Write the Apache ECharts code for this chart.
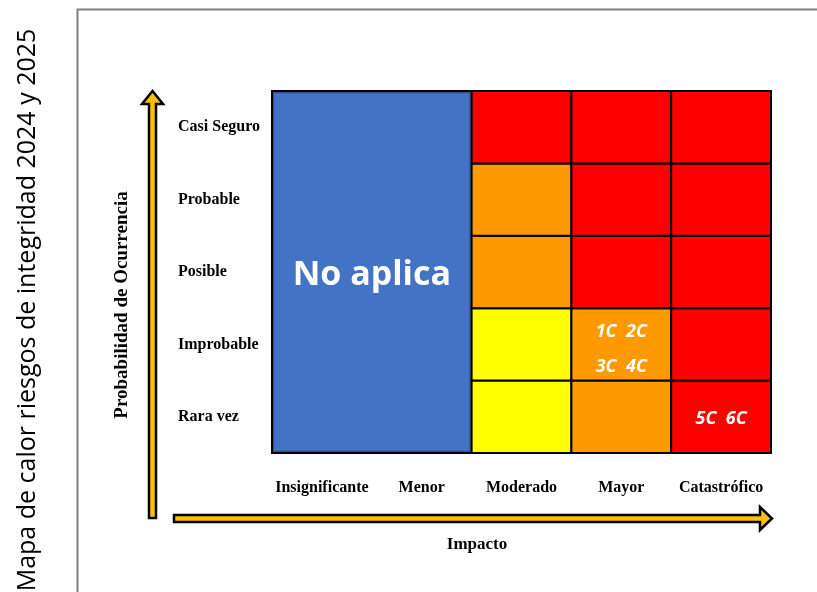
<!DOCTYPE html>
<html>
<head>
<meta charset="utf-8">
<script src="https://cdn.jsdelivr.net/npm/echarts@6/dist/echarts.min.js"></script>
<style>
	html, body { margin: 0; padding: 0; background: #fff; }
	#myChart { width: 817px; height: 592px; }
</style>
</head>
<body>
<div id="myChart"></div>
<script>
	var impact = ['Insignificante', 'Menor', 'Moderado', 'Mayor', 'Catastrófico'];
	var probability = ['Rara vez', 'Improbable', 'Posible', 'Probable', 'Casi Seguro'];

	// nivel de riesgo: 1 bajo, 2 medio, 3 alto (columnas Moderado, Mayor, Catastrófico)
	var riskLevel = [
		[1, 2, 3], // Rara vez
		[1, 2, 3], // Improbable
		[2, 3, 3], // Posible
		[2, 3, 3], // Probable
		[3, 3, 3]  // Casi Seguro
	];
	var notApplicable = { impact: ['Insignificante', 'Menor'], text: 'No aplica' };
	var riskCodes = [
		{ impact: 'Mayor', probability: 'Improbable', codes: ['1C', '2C', '3C', '4C'] },
		{ impact: 'Catastrófico', probability: 'Rara vez', codes: ['5C', '6C'] }
	];
	var levelColors = ['#4472C4', '#FFFF00', '#FF9900', '#FF0000'];

	var myChart = echarts.init(document.getElementById('myChart'));

	function codeText(codes) {
		var lines = [];
		for (var i = 0; i < codes.length; i += 2) {
			lines.push(codes.slice(i, i + 2).join('  '));
		}
		return lines.join('\n');
	}

	function buildCells() {
		var cells = [];
		// bloque fusionado "No aplica"
		cells.push([impact.indexOf(notApplicable.impact[0]), 0, notApplicable.impact.length, probability.length, 0, notApplicable.text]);
		for (var y = 0; y < riskLevel.length; y++) {
			for (var k = 0; k < riskLevel[y].length; k++) {
				var x = k + notApplicable.impact.length;
				var text = '';
				riskCodes.forEach(function (r) {
					if (impact.indexOf(r.impact) === x && probability.indexOf(r.probability) === y) {
						text = codeText(r.codes);
					}
				});
				cells.push([x, y, 1, 1, riskLevel[y][k], text]);
			}
		}
		return cells;
	}

	var cells = buildCells();

	function renderCell(params, api) {
		var x = api.value(0), y = api.value(1);
		var spanX = api.value(2), spanY = api.value(3);
		var level = api.value(4);
		var text = cells[params.dataIndex][5];
		var size = api.size([1, 1]);
		var p0 = api.coord([x, y + spanY - 1]);
		var left = p0[0] - size[0] / 2;
		var top = p0[1] - size[1] / 2;
		var w = size[0] * spanX, h = size[1] * spanY;
		var isBlue = level === 0;
		var children = [{
			type: 'rect',
			shape: isBlue ? { x: left + 1.5, y: top + 1.5, width: w - 3, height: h - 3 } : { x: left, y: top, width: w, height: h },
			style: {
				fill: levelColors[level],
				stroke: isBlue ? '#2F528F' : '#000',
				lineWidth: isBlue ? 1.5 : 2
			}
		}];
		if (text) {
			children.push({
				type: 'text',
				x: left + w / 2,
				y: top + h / 2 + (isBlue ? 3 : (text.indexOf('\n') > 0 ? 5 : 2)),
				style: {
					text: text,
					fill: '#fff',
					align: 'center',
					verticalAlign: 'middle',
					fontFamily: 'Open Sans',
					fontWeight: 'bold',
					fontStyle: isBlue ? 'normal' : 'italic',
					fontSize: isBlue ? 34 : 18,
					lineHeight: 35
				}
			});
		}
		return { type: 'group', children: children };
	}

	var serif = { fontFamily: 'Liberation Serif', fontWeight: 'bold', fontSize: 16, color: '#000' };

	var option = {
		animation: false,
		backgroundColor: '#fff',
		grid: { left: 272, right: 46, top: 91, bottom: 139, show: true, z: 10, borderColor: '#000', borderWidth: 2, backgroundColor: 'transparent' },
		xAxis: {
			type: 'category',
			data: impact,
			axisLine: { show: false },
			axisTick: { show: false },
			splitLine: { show: false },
			axisLabel: Object.assign({ margin: 27, interval: 0 }, serif)
		},
		yAxis: {
			type: 'category',
			data: probability,
			axisLine: { show: false },
			axisTick: { show: false },
			splitLine: { show: false },
			axisLabel: Object.assign({ margin: 94, align: 'left' }, serif)
		},
		graphic: [
			// marco
			{ type: 'polyline', shape: { points: [[77.5, 592], [77.5, 9.5], [817, 9.5]] }, style: { stroke: '#808080', lineWidth: 2, fill: null } },
			// flechas
			{
				type: 'polygon',
				shape: { points: [[149, 518], [149, 104], [142, 104], [152.5, 91], [163, 104], [156, 104], [156, 518]] },
				style: { fill: '#FFC000', stroke: '#000', lineWidth: 2.5 }
			},
			{
				type: 'polygon',
				shape: { points: [[174, 515], [760, 515], [760, 507], [772, 518.5], [760, 530], [760, 522], [174, 522]] },
				style: { fill: '#FFC000', stroke: '#000', lineWidth: 2.5 }
			},
			{
				type: 'text', x: 477, y: 545,
				style: { text: 'Impacto', align: 'center', verticalAlign: 'middle', fill: '#000', font: 'bold 17px "Liberation Serif"' }
			},
			{
				type: 'text', x: 122, y: 305, rotation: Math.PI / 2,
				style: { text: 'Probabilidad de Ocurrencia', align: 'center', verticalAlign: 'middle', fill: '#000', font: 'bold 19px "Liberation Serif"' }
			},
			{
				type: 'text', x: 28, y: 310, rotation: Math.PI / 2,
				style: { text: 'Mapa de calor riesgos de integridad 2024 y 2025', align: 'center', verticalAlign: 'middle', fill: '#000', font: '25px "Open Sans"' }
			}
		],
		series: [{
			type: 'custom',
			renderItem: renderCell,
			encode: { x: 0, y: 1 },
			data: cells.map(function (c) { return c.slice(0, 5); }),
			z: 2
		}]
	};

	myChart.setOption(option);
</script>
</body>
</html>
